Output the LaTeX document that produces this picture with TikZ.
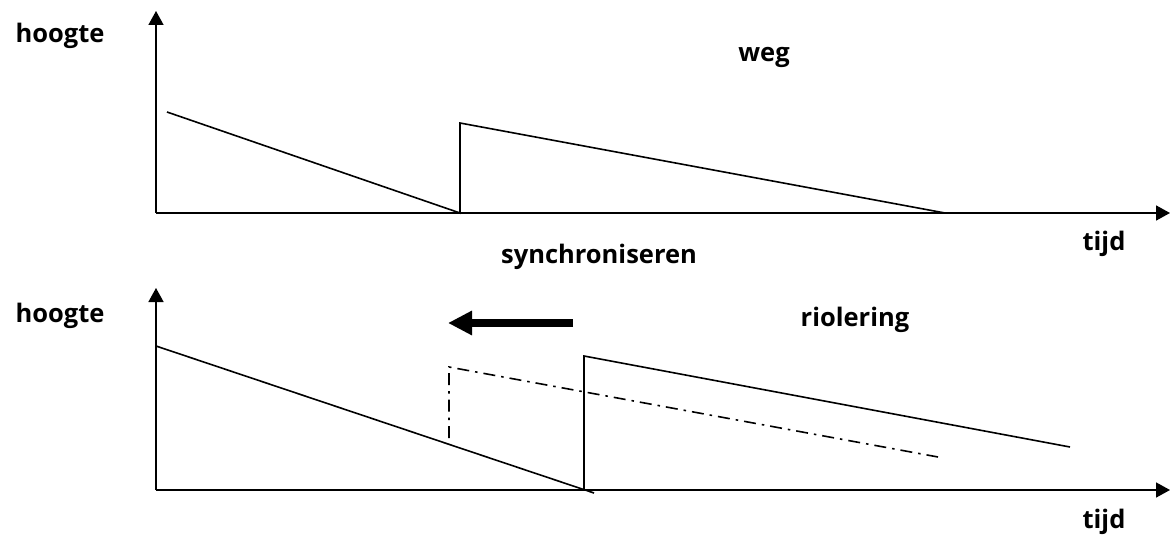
\documentclass[tikz,border=0pt]{standalone}
\usepackage{fontspec}
\setmainfont{Open Sans}
\usetikzlibrary{arrows.meta}
\begin{document}
\begin{tikzpicture}[x=1pt,y=-1pt,
  lbl/.style={font=\fontsize{25.5}{30}\selectfont\bfseries, inner sep=0pt},
  axis/.style={line width=1.6pt, -{Triangle[length=14pt,width=15pt]}},
  curve/.style={line width=1.6pt, line join=miter},
  shifted/.style={line width=1.6pt, dash pattern=on 12pt off 6pt on 2.5pt off 6pt},
  move/.style={line width=8pt, -{Triangle[length=24pt,width=23pt]}, shorten >=-1pt}]
\useasboundingbox (0,0) rectangle (1172,540);

% upper diagram: road surface
\coordinate (o1) at (156,213);
\coordinate (y1) at (156,11);
\coordinate (x1) at (1170,213);
\draw[axis] (o1) -- (y1);
\draw[axis] (o1) -- (x1);
\coordinate (a1) at (167,112);
\coordinate (b1) at (460,213);
\coordinate (c1) at (460,123);
\coordinate (d1) at (945,213);
\draw[curve] (a1) -- (b1) -- (c1) -- (d1);
\node[lbl] (h1) at (60,36) {hoogte};
\node[lbl] (w) at (764,57) {weg};
\node[lbl] (t1) at (1104,244) {tijd};
\node[lbl] (s) at (599,257) {synchroniseren};

% lower diagram: sewer system
\coordinate (o2) at (156,490);
\coordinate (y2) at (156,288);
\coordinate (x2) at (1170,490);
\draw[axis] (o2) -- (y2);
\draw[axis] (o2) -- (x2);
\coordinate (a2) at (156,346);
\coordinate (b2) at (594,493);
\coordinate (p2) at (584,490);
\coordinate (c2) at (584,356);
\coordinate (d2) at (1070,447);
\draw[curve] (a2) -- (b2);
\draw[curve] (p2) -- (c2) -- (d2);
\coordinate (e2) at (449,438);
\coordinate (f2) at (449,367);
\coordinate (g2) at (938,457);
\draw[shifted] (e2) -- (f2) -- (g2);
\coordinate (m1) at (573,323);
\coordinate (m2) at (449,323);
\draw[move] (m1) -- (m2);
\node[lbl] (h2) at (60,316) {hoogte};
\node[lbl] (r) at (855,320) {riolering};
\node[lbl] (t2) at (1104,522) {tijd};
\end{tikzpicture}
\end{document}
